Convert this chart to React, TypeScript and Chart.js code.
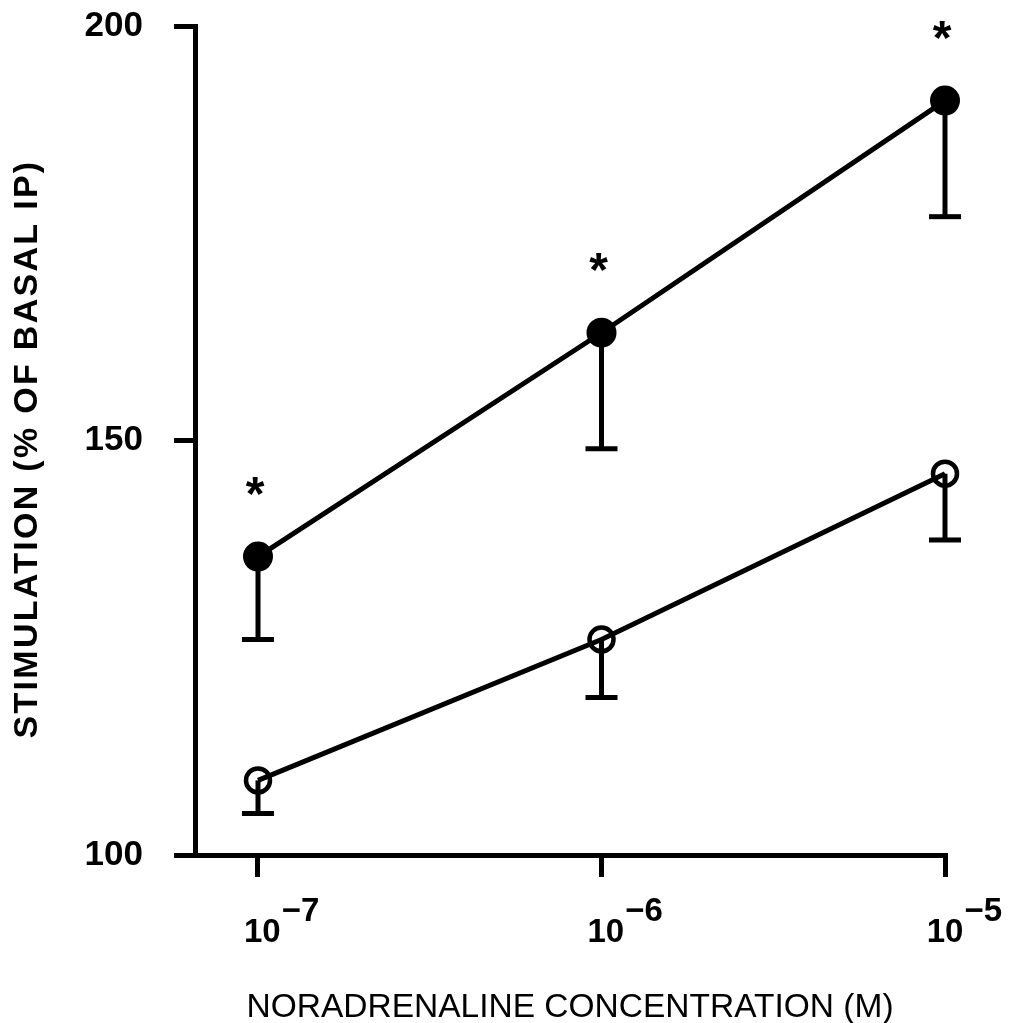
import React, { useEffect, useRef } from "react";
import { Chart, registerables } from "chart.js";

Chart.register(...registerables);

// ---- data ----
const concentrations = [1e-7, 1e-6, 1e-5];
const exponentLabels = ["\u22127", "\u22126", "\u22125"];
const filledMeans = [136, 163, 191];
const filledSem = [10, 14, 14];
const openMeans = [109, 126, 146];
const openSem = [4, 7, 8];
const significant = [true, true, true];
const yTickValues = [100, 150, 200];
const xTitle = "NORADRENALINE CONCENTRATION (M)";
const yTitle = "STIMULATION (% OF BASAL IP)";

const FONT = "'Liberation Sans', Arial, Helvetica, sans-serif";

const overlayPlugin = {
  id: "overlay",
  beforeDatasetsDraw(chart: any) {
    const ctx = chart.ctx;
    const xs = chart.scales.x;
    const ys = chart.scales.y;
    ctx.save();
    ctx.strokeStyle = "#000";
    ctx.lineWidth = 5;
    ctx.lineCap = "butt";
    const drawBars = (means: number[], sems: number[]) => {
      means.forEach((m, i) => {
        const x = xs.getPixelForValue(concentrations[i]);
        const y0 = ys.getPixelForValue(m);
        const y1 = ys.getPixelForValue(m - sems[i]);
        ctx.beginPath();
        ctx.moveTo(x, y0);
        ctx.lineTo(x, y1);
        ctx.stroke();
        ctx.beginPath();
        ctx.moveTo(x - 16, y1);
        ctx.lineTo(x + 16, y1);
        ctx.stroke();
      });
    };
    drawBars(filledMeans, filledSem);
    drawBars(openMeans, openSem);
    ctx.restore();
  },
  afterDraw(chart: any) {
    const ctx = chart.ctx;
    const xs = chart.scales.x;
    const ys = chart.scales.y;
    ctx.save();
    ctx.fillStyle = "#000";

    // x tick labels with superscript exponents
    concentrations.forEach((c, i) => {
      const x = xs.getPixelForValue(c);
      ctx.font = `bold 33px ${FONT}`;
      ctx.textAlign = "left";
      ctx.textBaseline = "alphabetic";
      const baseW = ctx.measureText("10").width;
      const expW = ctx.measureText(exponentLabels[i]).width;
      let left = x - 14;
      const maxRight = chart.width - 14;
      if (left + baseW + 1 + expW > maxRight) left = maxRight - baseW - 1 - expW;
      ctx.fillText("10", left, 942);
      ctx.fillText(exponentLabels[i], left + baseW + 1, 921);
    });

    // asterisks
    ctx.font = `bold 48px ${FONT}`;
    ctx.textAlign = "center";
    ctx.textBaseline = "middle";
    filledMeans.forEach((m, i) => {
      if (!significant[i]) return;
      const x = xs.getPixelForValue(concentrations[i]);
      const y = ys.getPixelForValue(m);
      ctx.fillText("*", x - 3, y - 60);
    });

    // x title
    ctx.font = `33.5px ${FONT}`;
    ctx.textAlign = "center";
    ctx.textBaseline = "alphabetic";
    ctx.fillText(xTitle, 570, 1017);

    // y title
    ctx.translate(37, 449);
    ctx.rotate(-Math.PI / 2);
    ctx.font = `bold 34px ${FONT}`;
    (ctx as any).letterSpacing = "2.3px";
    ctx.textAlign = "center";
    ctx.textBaseline = "alphabetic";
    ctx.fillText(yTitle, 0, 0);
    ctx.restore();
  },
};

export default function App() {
  const canvasRef = useRef<HTMLCanvasElement | null>(null);

  useEffect(() => {
    const canvas = canvasRef.current;
    if (!canvas) return;
    const chart = new Chart(canvas, {
      type: "line",
      data: {
        datasets: [
          {
            label: "filled",
            data: concentrations.map((c, i) => ({ x: c, y: filledMeans[i] })),
            borderColor: "#000",
            borderWidth: 5,
            backgroundColor: "#000",
            pointRadius: 15,
            pointBorderWidth: 0,
            pointBackgroundColor: "#000",
            pointBorderColor: "#000",
            tension: 0,
            clip: false,
          },
          {
            label: "open",
            data: concentrations.map((c, i) => ({ x: c, y: openMeans[i] })),
            borderColor: "#000",
            borderWidth: 5,
            backgroundColor: "transparent",
            pointRadius: 12,
            pointBorderWidth: 4.5,
            pointBackgroundColor: "rgba(0,0,0,0)",
            pointBorderColor: "#000",
            tension: 0,
            clip: false,
          },
        ],
      },
      options: {
        animation: false,
        responsive: false,
        devicePixelRatio: 1,
        layout: { padding: { left: 0, top: 26, right: 71, bottom: 0 } },
        plugins: {
          legend: { display: false },
          tooltip: { enabled: false },
        },
        scales: {
          x: {
            type: "logarithmic",
            bounds: "data",
            min: Math.pow(10, -7.1834),
            max: 1e-5,
            afterBuildTicks: (s: any) => {
              s.ticks = concentrations.map((v) => ({ value: v }));
            },
            afterFit: (s: any) => {
              s.height = 168;
              s.paddingLeft = 0;
              s.paddingRight = 0;
            },
            ticks: { display: false },
            grid: {
              drawOnChartArea: false,
              drawTicks: true,
              tickLength: 22,
              lineWidth: 5,
              color: "#000",
            },
            border: { display: true, width: 5, color: "#000" },
          },
          y: {
            type: "linear",
            min: 100,
            max: 200,
            afterBuildTicks: (s: any) => {
              s.ticks = yTickValues.map((v) => ({ value: v }));
            },
            afterFit: (s: any) => {
              s.width = 195;
              s.paddingTop = 0;
              s.paddingBottom = 0;
            },
            ticks: {
              color: "#000",
              padding: 31,
              font: { family: FONT, size: 35, weight: "bold" },
            },
            grid: {
              drawOnChartArea: false,
              drawTicks: true,
              tickLength: 21,
              lineWidth: 5,
              color: "#000",
            },
            border: { display: true, width: 5, color: "#000" },
          },
        },
      },
      plugins: [overlayPlugin],
    } as any);
    return () => chart.destroy();
  }, []);

  return (
    <div style={{ position: "absolute", left: 0, top: 0, width: 1016, height: 1023, background: "#fff" }}>
      <canvas ref={canvasRef} width={1016} height={1023} style={{ display: "block" }} />
    </div>
  );
}
